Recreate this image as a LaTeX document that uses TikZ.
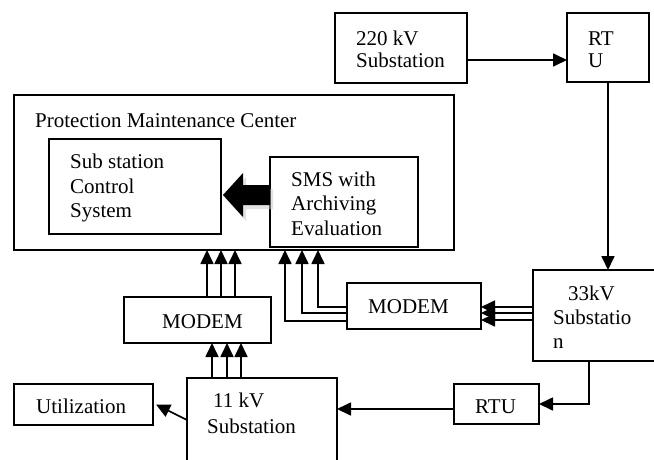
\documentclass[tikz,border=0pt]{standalone}
\usepackage{fontspec}
\setmainfont{Liberation Serif}
\usetikzlibrary{arrows.meta,calc,shadows}
\begin{document}
\begin{tikzpicture}[x=1pt,y=-1pt,
  box/.style={draw,line width=1.7pt,inner sep=0pt,outer sep=0pt},
  lbl/.style={anchor=base west,inner sep=0pt,font=\fontsize{21}{24.5}\selectfont},
  arr/.style={line width=1.7pt,-{Triangle[length=14pt,width=13pt]}},
  ln/.style={line width=1.7pt}]
\useasboundingbox (0,0) rectangle (654,459);
\clip (0,0) rectangle (654,459);
\newcommand\mybox[5]{\node[box,anchor=north west,minimum width=#4-#2,minimum height=#5-#3] (#1) at (#2,#3) {};}
\mybox{sub220}{335}{13}{467}{83}
\mybox{rtuA}{567}{13}{649}{82}
\mybox{pmc}{14}{95}{454}{250}
\mybox{ssc}{49}{139}{221}{234}
\mybox{sms}{270}{157}{418}{247}
\mybox{modemL}{124}{297}{271}{343}
\mybox{modemR}{347}{283}{481}{329}
\mybox{sub33}{533}{270}{690}{361}
\mybox{sub11}{187}{378}{337}{490}
\mybox{util}{14}{384}{153}{425}
\mybox{rtuB}{454}{384}{539}{424}
% texts
\node[lbl] (t1) at (356,45) {220 kV};
\node[lbl] (t2) at (356,67) {Substation};
\node[lbl] (t3) at (588,45) {RT};
\node[lbl] (t4) at (588,67) {U};
\node[lbl] (t5) at (35,127) {Protection Maintenance Center};
\node[lbl] (t6) at (70,168) {Sub station};
\node[lbl] (t7) at (70,193) {Control};
\node[lbl] (t8) at (70,217) {System};
\node[lbl] (t9) at (291,186) {SMS with};
\node[lbl] (t10) at (291,210) {Archiving};
\node[lbl] (t11) at (291,235) {Evaluation};
\node[lbl] (t12) at (162,328) {MODEM};
\node[lbl] (t13) at (368,313) {MODEM};
\node[lbl] (t14) at (568,300) {33kV};
\node[lbl] (t15) at (553,324) {Substatio};
\node[lbl] (t16) at (553,348) {n};
\node[lbl] (t17) at (475,413) {RTU};
\node[lbl] (t18) at (213,407) {11 kV};
\node[lbl] (t19) at (207,433) {Substation};
\node[lbl] (t20) at (36,413) {Utilization};
% fat arrow
\fill[black,drop shadow={shadow xshift=3pt,shadow yshift=-4pt,fill=gray!45}]
  (270,185) -- (243,185) -- (243,173) -- (223,195) -- (243,217) -- (243,205) -- (270,205) -- cycle;
% connectors
\draw[arr] (sub220.east |- 0,60) -- (rtuA.west |- 0,60);
\draw[arr] (rtuA.south) -- (rtuA.south |- sub33.north);
\draw[arr] (sub33.south -| 589,0) |- (rtuB.east);
\draw[arr] (rtuB.west |- 0,409) -- (sub11.east |- 0,409);
\draw[arr] (sub11.west |- 0,420) -- ($(util.east)+(3,0)$);
\foreach \x in {212,227,241} \draw[arr] (sub11.north -| \x,0) -- (modemL.south -| \x,0);
\foreach \x in {207,221,235} \draw[arr] (modemL.north -| \x,0) -- (pmc.south -| \x,0);
\foreach \y in {307,313,320} \draw[arr] (sub33.west |- 0,\y) -- (modemR.east |- 0,\y);
\foreach \y/\x in {307/318,313/302,321/285} \draw[arr] (modemR.west |- 0,\y) -| (pmc.south -| \x,0);
\end{tikzpicture}
\end{document}
